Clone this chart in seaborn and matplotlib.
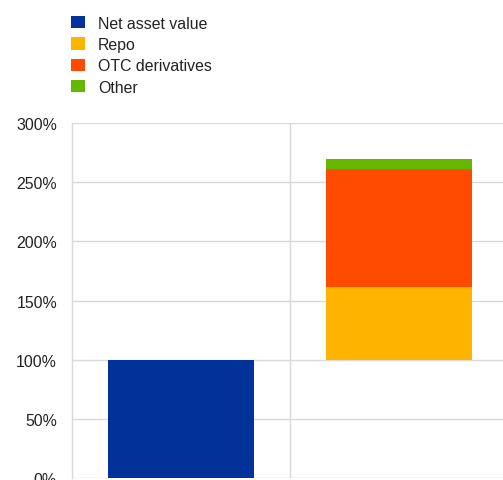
import numpy as np
import pandas as pd
import seaborn as sns
import matplotlib.pyplot as plt
from matplotlib.patches import Patch
from matplotlib.ticker import FuncFormatter, MultipleLocator, FixedLocator

categories = ["Net asset value", "Total exposure"]
series = ["Net asset value", "Repo", "OTC derivatives", "Other"]
nav = [100, 0]
repo = [0, 61]
otc = [0, 100]
other = [0, 9]
colors = ["#003299", "#FFB400", "#FF4B00", "#65B800"]

sns.set_style("white")
plt.rcParams["font.family"] = ["Liberation Sans", "DejaVu Sans"]

fig = plt.figure(figsize=(5.03, 4.81), dpi=100)
W, H = 503, 481
ax = fig.add_axes([72 / W, 2 / H, (508 - 72) / W, (479 - 124) / H])

values = [nav, repo, otc, other]
bottoms = [np.array([0.0, 0.0])]
cur = np.array(nav, dtype=float) * np.array([0.0, 1.0]) + np.array([0.0, 0.0])
cur = np.array([0.0, float(nav[0])])
for v in values[1:]:
    bottoms.append(cur.copy())
    cur = cur + np.array(v, dtype=float)

for name, v, b, c in zip(series, values, bottoms, colors):
    df = pd.DataFrame({"cat": categories, "val": v})
    sns.barplot(data=df, x="cat", y="val", order=categories, color=c,
                width=0.67, errorbar=None, bottom=b, ax=ax,
                saturation=1, linewidth=0)

ax.set_xlim(-0.5, 1.5)
ax.set_ylim(0, 300)
ax.yaxis.set_major_locator(MultipleLocator(50))
ax.yaxis.set_major_formatter(FuncFormatter(lambda v, p: f"{v:.0f}%"))
ax.xaxis.set_major_locator(FixedLocator([0.5]))
ax.set_xticklabels([])
ax.set_xlabel("")
ax.set_ylabel("")
ax.grid(True, axis="both", color="#d9d9d9", linewidth=1)
ax.set_axisbelow(True)
for s in ["top", "right", "bottom"]:
    ax.spines[s].set_visible(False)
ax.spines["left"].set_color("#d9d9d9")
ax.spines["left"].set_linewidth(1)
ax.tick_params(axis="y", length=0, pad=10.8, labelsize=11.4, labelcolor="#222222")
ax.tick_params(axis="x", length=0)

handles = [Patch(facecolor=c, edgecolor="none") for c in colors]
fig.legend(handles, series, loc="upper left", bbox_to_anchor=(66 / W, 1 - 12 / H),
           frameon=False, fontsize=11.4, handlelength=0.89, handleheight=0.82,
           handletextpad=0.82, labelspacing=0.4, borderaxespad=0, borderpad=0.3)
for t in fig.legends[0].get_texts():
    t.set_color("#222222")

fig.savefig("out.png", dpi=100)
